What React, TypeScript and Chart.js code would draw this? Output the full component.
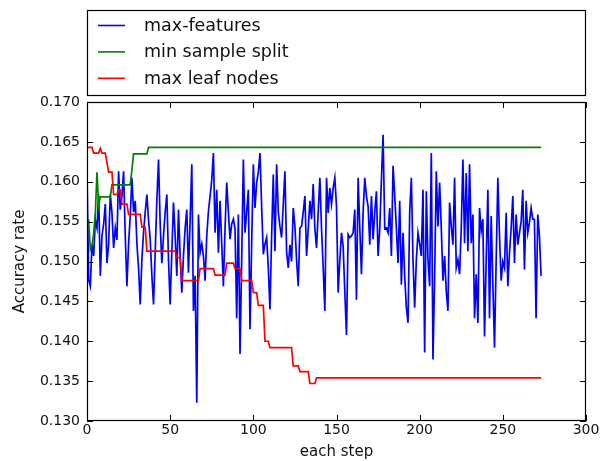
import React, { useEffect, useRef } from "react";
import { Chart, registerables } from "chart.js";

Chart.register(...registerables);

const seriesLabels = ["max-features", "min sample split", "max leaf nodes"];
const seriesColors = ["#0000ff", "#008000", "#ff0000"];

const xTicks = [0, 50, 100, 150, 200, 250, 300];
const yTicks = [0.13, 0.135, 0.14, 0.145, 0.15, 0.155, 0.16, 0.165, 0.17];

// max-features: one value per step (0..273)
const maxFeatures = [
  0.1613, 0.1477, 0.1469, 0.1522, 0.1507, 0.1552, 0.1542, 0.1584, 0.1482, 0.1532,
  0.1547, 0.1572, 0.1498, 0.1522, 0.1584, 0.1561, 0.1517, 0.1542, 0.1527, 0.1613,
  0.1565, 0.1582, 0.1613, 0.1532, 0.1469, 0.1522, 0.1557, 0.1605, 0.1562, 0.1576,
  0.1522, 0.1492, 0.1446, 0.1502, 0.1537, 0.1562, 0.1584, 0.1552, 0.1528, 0.1482,
  0.1446, 0.1512, 0.1577, 0.1628, 0.1547, 0.1498, 0.1532, 0.1562, 0.1584, 0.1502,
  0.1446, 0.1512, 0.1574, 0.1532, 0.1482, 0.1565, 0.1507, 0.1461, 0.1507, 0.1542,
  0.1565, 0.1486, 0.1552, 0.1622, 0.1438, 0.1482, 0.1323, 0.1559, 0.1511, 0.1522,
  0.1507, 0.1476, 0.1532, 0.1563, 0.1582, 0.1602, 0.1636, 0.1536, 0.159, 0.1511,
  0.1576, 0.1522, 0.1469, 0.1542, 0.1599, 0.1562, 0.1528, 0.1547, 0.1553, 0.1541,
  0.1429, 0.1559, 0.1384, 0.1502, 0.1628, 0.1536, 0.1562, 0.159, 0.1415, 0.1522,
  0.1622, 0.1567, 0.1599, 0.1612, 0.1636, 0.1569, 0.1509, 0.1522, 0.153, 0.1492,
  0.144, 0.1532, 0.1609, 0.1513, 0.1622, 0.1562, 0.1544, 0.153, 0.1572, 0.1613,
  0.1512, 0.1492, 0.1521, 0.15, 0.1567, 0.1544, 0.1502, 0.1469, 0.1542, 0.1544,
  0.1562, 0.1582, 0.1507, 0.1541, 0.1576, 0.1553, 0.1597, 0.1541, 0.1517, 0.1562,
  0.1605, 0.1541, 0.1492, 0.1438, 0.1605, 0.1561, 0.1592, 0.1572, 0.1592, 0.1605,
  0.1569, 0.1461, 0.1502, 0.1536, 0.1519, 0.1462, 0.1408, 0.1534, 0.153, 0.1532,
  0.1536, 0.1565, 0.1452, 0.1605, 0.1542, 0.1484, 0.1562, 0.1605, 0.1582, 0.1569,
  0.1521, 0.1582, 0.1528, 0.1562, 0.1588, 0.1507, 0.1541, 0.1602, 0.1659, 0.1541,
  0.1542, 0.1536, 0.1567, 0.1507, 0.162, 0.1582, 0.1542, 0.1498, 0.1576, 0.1471,
  0.1536, 0.1482, 0.1442, 0.1423, 0.1562, 0.1605, 0.1502, 0.1442, 0.1502, 0.1536,
  0.1522, 0.1507, 0.159, 0.1386, 0.1588, 0.1502, 0.1469, 0.1636, 0.1377, 0.1482,
  0.1613, 0.1544, 0.1599, 0.1542, 0.1476, 0.1507, 0.1462, 0.1438, 0.1574, 0.1544,
  0.1521, 0.1605, 0.1492, 0.1502, 0.1484, 0.1541, 0.1628, 0.1523, 0.1611, 0.1513,
  0.1622, 0.1523, 0.1559, 0.1429, 0.1484, 0.1423, 0.1567, 0.1538, 0.1553, 0.1406,
  0.1502, 0.159, 0.1429, 0.1557, 0.1472, 0.1392, 0.1502, 0.1605, 0.1532, 0.1476,
  0.15, 0.1492, 0.1561, 0.1469, 0.1511, 0.1542, 0.1582, 0.1498, 0.1559, 0.1521,
  0.1536, 0.155, 0.159, 0.149, 0.1576, 0.1536, 0.1549, 0.1567, 0.1553, 0.1553,
  0.1429, 0.1559, 0.1532, 0.1482,
];

// min sample split: vertices (step, value) of its stepped curve
const minSplitSteps = [0, 1, 2, 3, 4, 5, 6, 7, 8, 14, 15, 26, 27, 28, 36, 37, 273];
const minSplitValues = [
  0.1552, 0.1552, 0.1515, 0.152, 0.1535, 0.156, 0.1612, 0.157, 0.1581, 0.1581,
  0.1596, 0.1596, 0.1615, 0.1635, 0.1635, 0.1643, 0.1643,
];

// max leaf nodes: vertices (step, value) of its stepped curve
const leafSteps = [
  0, 3, 4, 7, 8, 9, 11, 12, 13, 15, 16, 18, 19, 20, 21, 24, 25, 32, 33, 35, 36, 53,
  54, 56, 57, 67, 68, 76, 77, 83, 84, 88, 89, 92, 93, 99, 100, 102, 103, 106, 107,
  109, 110, 123, 124, 127, 128, 133, 134, 137, 138, 273,
];
const leafValues = [
  0.1643, 0.1643, 0.1636, 0.1636, 0.1642, 0.1636, 0.1636, 0.1624, 0.1612, 0.1612,
  0.1584, 0.1584, 0.159, 0.159, 0.1572, 0.1572, 0.1559, 0.1559, 0.1543, 0.1543,
  0.1513, 0.1513, 0.1505, 0.1505, 0.1476, 0.1476, 0.1491, 0.1491, 0.1483, 0.1483,
  0.1498, 0.1498, 0.1491, 0.1491, 0.1476, 0.1476, 0.1461, 0.1461, 0.1445, 0.1445,
  0.14, 0.14, 0.1392, 0.1392, 0.1369, 0.1369, 0.1362, 0.1362, 0.1347, 0.1347,
  0.1354, 0.1354,
];

const FONT = '"DejaVu Sans", "Liberation Sans", sans-serif';

const framePlugin = {
  id: "mplFrame",
  afterDraw(chart: any) {
    const { ctx, chartArea: a, scales } = chart;
    ctx.save();
    ctx.strokeStyle = "#000";
    ctx.lineWidth = 1;
    ctx.beginPath();
    const L = 6;
    for (const v of xTicks) {
      const x = Math.round(scales.x.getPixelForValue(v)) + 0.5;
      ctx.moveTo(x, a.top);
      ctx.lineTo(x, a.top + L);
      ctx.moveTo(x, a.bottom);
      ctx.lineTo(x, a.bottom - L);
    }
    for (const v of yTicks) {
      const y = Math.round(scales.y.getPixelForValue(v)) + 0.5;
      ctx.moveTo(a.left, y);
      ctx.lineTo(a.left + L, y);
      ctx.moveTo(a.right, y);
      ctx.lineTo(a.right - L, y);
    }
    ctx.stroke();
    ctx.lineWidth = 1.2;
    ctx.strokeRect(Math.round(a.left) + 0.5, Math.round(a.top) + 0.5, Math.round(a.width) - 1, Math.round(a.height) - 1);

    // legend box
    const bx = Math.round(a.left) + 0.5;
    const bw = Math.round(a.width) - 1;
    const by = 10.5;
    const bh = 85;
    ctx.fillStyle = "#fff";
    ctx.fillRect(bx, by, bw, bh);
    ctx.lineWidth = 1.2;
    ctx.strokeStyle = "#000";
    ctx.strokeRect(bx, by, bw, bh);
    ctx.font = `17.5px ${FONT}`;
    ctx.textBaseline = "middle";
    ctx.textAlign = "left";
    chart.data.datasets.forEach((ds: any, i: number) => {
      const y = 25.5 + i * 26.4;
      ctx.strokeStyle = ds.borderColor;
      ctx.lineWidth = 1.6;
      ctx.beginPath();
      ctx.moveTo(98, y);
      ctx.lineTo(125, y);
      ctx.stroke();
      ctx.fillStyle = "#111";
      ctx.fillText(ds.label, 144, y + 1);
    });
    ctx.restore();
  },
};

export default function App() {
  const ref = useRef<HTMLCanvasElement | null>(null);

  useEffect(() => {
    if (!ref.current) return;
    const chart = new Chart(ref.current, {
      type: "line",
      data: {
        datasets: [
          {
            label: seriesLabels[0],
            data: maxFeatures.map((v, i) => ({ x: i, y: v })),
            borderColor: seriesColors[0],
            borderWidth: 1.7,
            pointRadius: 0,
            tension: 0,
            order: 2,
          },
          {
            label: seriesLabels[1],
            data: minSplitSteps.map((s, i) => ({ x: s, y: minSplitValues[i] })),
            borderColor: seriesColors[1],
            borderWidth: 1.7,
            pointRadius: 0,
            tension: 0,
            order: 1,
          },
          {
            label: seriesLabels[2],
            data: leafSteps.map((s, i) => ({ x: s, y: leafValues[i] })),
            borderColor: seriesColors[2],
            borderWidth: 1.7,
            pointRadius: 0,
            tension: 0,
            order: 0,
          },
        ],
      },
      options: {
        animation: false,
        responsive: false,
        layout: { padding: { top: 102, right: 20, bottom: 0, left: 0 } },
        plugins: {
          legend: { display: false },
          tooltip: { enabled: false },
          title: { display: false },
        },
        scales: {
          x: {
            type: "linear",
            min: 0,
            max: 300,
            afterBuildTicks: (s: any) => {
              s.ticks = xTicks.map((v) => ({ value: v }));
            },
            afterFit: (s: any) => {
              s.height = 40;
              s.paddingLeft = 0;
              s.paddingRight = 0;
            },
            grid: { display: false, drawTicks: false },
            border: { display: false },
            ticks: {
              padding: 1,
              color: "#111",
              font: { family: FONT, size: 14 },
              maxRotation: 0,
              autoSkip: false,
              callback: (v: any) => String(v),
            },
            title: {
              display: true,
              text: "each step",
              color: "#111",
              font: { family: FONT, size: 15 },
              padding: { top: 0, bottom: 0 },
            },
          },
          y: {
            type: "linear",
            min: 0.13,
            max: 0.17,
            afterBuildTicks: (s: any) => {
              s.ticks = yTicks.map((v) => ({ value: v }));
            },
            afterFit: (s: any) => {
              s.width = 87;
              s.paddingTop = 0;
              s.paddingBottom = 0;
            },
            grid: { display: false, drawTicks: false },
            border: { display: false },
            ticks: {
              padding: 7,
              color: "#111",
              font: { family: FONT, size: 14 },
              autoSkip: false,
              callback: (v: any) => Number(v).toFixed(3),
            },
            title: {
              display: true,
              text: "Accuracy rate",
              color: "#111",
              font: { family: FONT, size: 15 },
              padding: { top: 11, bottom: 0 },
            },
          },
        },
      },
      plugins: [framePlugin],
    });
    return () => chart.destroy();
  }, []);

  return (
    <div style={{ position: "absolute", left: 0, top: 0, width: 606, height: 461, background: "#fff" }}>
      <canvas ref={ref} width={606} height={461} style={{ width: 606, height: 461, display: "block" }} />
    </div>
  );
}
